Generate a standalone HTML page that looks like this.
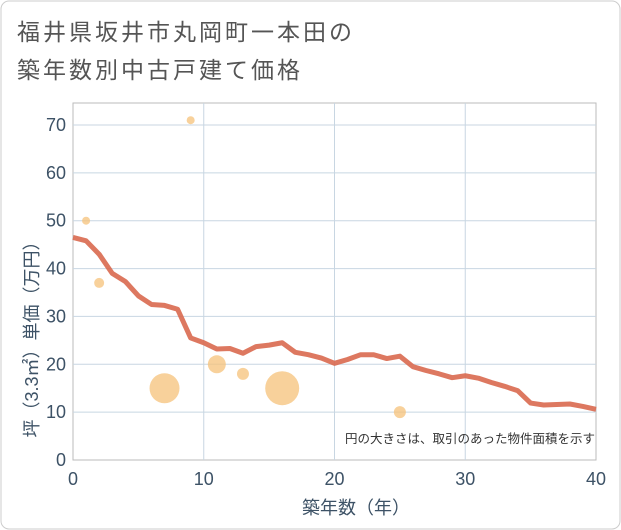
<!DOCTYPE html>
<html><head><meta charset="utf-8">
<style>
body{margin:0;background:#fff;}
svg{display:block;font-family:"Liberation Sans","Noto Sans CJK JP",sans-serif;}
</style></head>
<body>
<svg id="c" width="621" height="530">
<rect x="1" y="1" width="619" height="528" rx="8" fill="#fff" stroke="#ccc"/>
<text x="17" y="40" font-size="23" letter-spacing="3" fill="#555">福井県坂井市丸岡町一本田の</text>
<text x="17" y="78" font-size="23" letter-spacing="3" fill="#555">築年数別中古戸建て価格</text>
<g id="grid"></g>
<g id="marks"></g>
<text x="595" y="443" font-size="12.5" fill="#333" text-anchor="end">円の大きさは、取引のあった物件面積を示す</text>
<text x="356" y="514" font-size="18" fill="#3d5266" text-anchor="middle">築年数（年）</text>
<text transform="translate(38,335) rotate(-90)" font-size="18" fill="#3d5266" text-anchor="middle">坪（3.3㎡）単価（万円）</text>
</svg>
<script>
const xTicks=[0,10,20,30,40];
const yTicks=[0,10,20,30,40,50,60,70];
const lineX=[0,1,2,3,4,5,6,7,8,9,10,11,12,13,14,15,16,17,18,19,20,21,22,23,24,25,26,27,28,29,30,31,32,33,34,35,36,37,38,39,40];
const lineY=[46.5,45.8,43,39,37.3,34.3,32.5,32.3,31.5,25.5,24.5,23.2,23.3,22.3,23.7,24,24.5,22.5,22,21.3,20.2,21,22,22,21.2,21.7,19.5,18.7,18,17.2,17.6,17.1,16.2,15.4,14.5,11.9,11.5,11.6,11.7,11.2,10.6];
const bubX=[1,2,7,9,11,13,16,25];
const bubY=[50,37,15,71,20,18,15,10];
const bubR=[4,5,15,4,9,6,17,6];
const L=73,R=596,T=103,B=460;
const xs=v=>L+(v-0)/(40-0)*(R-L);
const ns="http://www.w3.org/2000/svg";
const grid=document.getElementById('grid'),marks=document.getElementById('marks'),svg=document.getElementById('c');
function mk(tag,attrs,parent){const e=document.createElementNS(ns,tag);for(const k in attrs)e.setAttribute(k,attrs[k]);parent.appendChild(e);return e;}
const ysc=v=>B-v*(B-125)/70;
const bg=mk('rect',{x:L,y:T,width:R-L,height:B-T,fill:'#fff',stroke:'#bbb'},grid);


yTicks.forEach(t=>{
  if(t>0){const g=mk('line',{x1:L,x2:R,y1:ysc(t),y2:ysc(t),stroke:'#c8d6e2','stroke-width':1},grid);
  
  }
  const tx=mk('text',{x:L-7,y:ysc(t)+6,'font-size':18,fill:'#3d5266','text-anchor':'end'},svg);
  tx.textContent=t;
  
  
});
xTicks.forEach(t=>{
  if(t>0&&t<40){const g=mk('line',{x1:xs(t),x2:xs(t),y1:T,y2:B,stroke:'#c8d6e2','stroke-width':1},grid);
  
  }
  const tx=mk('text',{x:xs(t),y:B+25,'font-size':18,fill:'#3d5266','text-anchor':'middle'},svg);
  tx.textContent=t;
  
  
});
bubX.forEach((v,i)=>{
  const c=mk('circle',{cx:xs(v),cy:ysc(bubY[i]),r:bubR[i],fill:'#f5c27a','fill-opacity':0.75},marks);
  
  
});
const p=mk('polyline',{points:lineX.map((v,i)=>xs(v)+','+ysc(lineY[i])).join(' '),fill:'none',stroke:'#d9694f','stroke-width':5,'stroke-linejoin':'round','stroke-opacity':0.9},marks);


</script>
</body></html>
